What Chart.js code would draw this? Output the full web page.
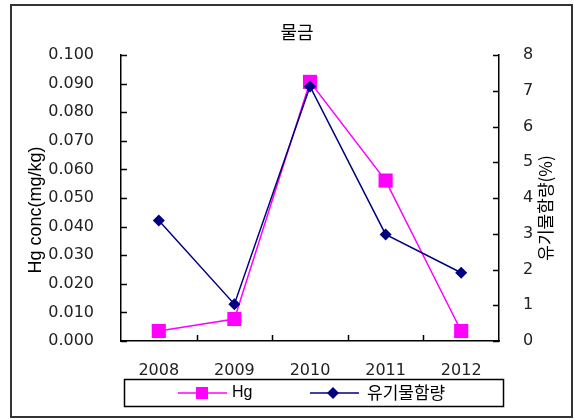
<!DOCTYPE html>
<html>
<head>
<meta charset="utf-8">
<script src="https://cdn.jsdelivr.net/npm/chart.js@4.4.1/dist/chart.umd.min.js"></script>
<style>
  html, body { margin: 0; padding: 0; background: #fff; }
  #wrap { width: 574px; height: 419px; position: relative; }
</style>
</head>
<body>
<div id="wrap"><canvas id="chart" width="574" height="419"></canvas></div>
<script>
// 데이터
const years = ['2008', '2009', '2010', '2011', '2012'];
const hgValues = [0.0035, 0.0077, 0.0906, 0.0561, 0.0035];
const organicValues = [3.37, 1.03, 7.12, 2.98, 1.91];
const chartTitle = '물금';
const hgLabel = 'Hg';
const organicLabel = '유기물함량';
const leftAxisTitle = 'Hg conc(mg/kg)';
const rightAxisTitle = '유기물함량(%)';

const tickFont = { family: 'DejaVu Sans', size: 16 };

// 제목, 안쪽 눈금, 범례 상자 등을 직접 그림
const extrasPlugin = {
  id: 'extras',
  afterDraw(chart) {
    const ctx = chart.ctx;
    const x = chart.scales.x;
    const yL = chart.scales.y;
    const yR = chart.scales.y1;
    const area = chart.chartArea;
    ctx.save();

    // 바깥 테두리
    ctx.strokeStyle = '#333';
    ctx.lineWidth = 2;
    ctx.strokeRect(11, 5, 561, 412);

    // 제목
    ctx.fillStyle = '#000';
    ctx.font = '18px "Noto Sans CJK KR"';
    ctx.textAlign = 'center';
    ctx.textBaseline = 'middle';
    ctx.fillText(chartTitle, 297, 32);

    // 안쪽 눈금
    ctx.strokeStyle = '#000';
    ctx.lineWidth = 1.5;
    ctx.beginPath();
    yL.ticks.forEach(t => {
      const py = Math.round(yL.getPixelForValue(t.value)) + 0.5;
      ctx.moveTo(area.left, py);
      ctx.lineTo(area.left + 6, py);
    });
    yR.ticks.forEach(t => {
      const py = Math.round(yR.getPixelForValue(t.value)) + 0.5;
      ctx.moveTo(area.right, py);
      ctx.lineTo(area.right - 6, py);
    });
    for (let i = 0; i < years.length - 1; i++) {
      const px = Math.round(x.getPixelForValue(i + 0.5)) + 0.5;
      ctx.moveTo(px, area.bottom);
      ctx.lineTo(px, area.bottom - 6);
    }
    ctx.stroke();

    // 축 제목 (둘 다 아래에서 위로)
    ctx.fillStyle = '#000';
    ctx.save();
    ctx.translate(36, 210);
    ctx.rotate(-Math.PI / 2);
    ctx.font = '18px "Liberation Sans"';
    ctx.fillText(leftAxisTitle, 0, 0);
    ctx.restore();
    ctx.save();
    ctx.translate(546, 208);
    ctx.rotate(-Math.PI / 2);
    ctx.font = '17px "Noto Sans CJK KR"';
    ctx.fillText(rightAxisTitle, 0, 0);
    ctx.restore();

    // 범례
    const ly = 393;
    ctx.lineWidth = 1.5;
    ctx.strokeStyle = '#000';
    ctx.strokeRect(124.5, 379.5, 379, 27);

    ctx.strokeStyle = '#FF00FF';
    ctx.beginPath();
    ctx.moveTo(178, ly);
    ctx.lineTo(227, ly);
    ctx.stroke();
    ctx.fillStyle = '#FF00FF';
    ctx.fillRect(202 - 6, ly - 6, 12, 12);

    ctx.strokeStyle = '#000080';
    ctx.beginPath();
    ctx.moveTo(310, ly);
    ctx.lineTo(359, ly);
    ctx.stroke();
    ctx.fillStyle = '#000080';
    ctx.beginPath();
    ctx.moveTo(333 - 6, ly);
    ctx.lineTo(333, ly - 6);
    ctx.lineTo(333 + 6, ly);
    ctx.lineTo(333, ly + 6);
    ctx.closePath();
    ctx.fill();

    ctx.fillStyle = '#000';
    ctx.textAlign = 'left';
    ctx.font = '16px "Liberation Sans"';
    ctx.fillText(hgLabel, 232, ly);
    ctx.font = '17px "Noto Sans CJK KR"';
    ctx.fillText(organicLabel, 367, ly);

    ctx.restore();
  }
};

new Chart(document.getElementById('chart'), {
  type: 'line',
  data: {
    labels: years,
    datasets: [
      {
        label: hgLabel,
        data: hgValues,
        yAxisID: 'y',
        borderColor: '#FF00FF',
        backgroundColor: '#FF00FF',
        borderWidth: 1.5,
        pointStyle: 'rect',
        pointRadius: 10,
        pointHoverRadius: 10,
        pointBorderWidth: 0,
        tension: 0,
        order: 2
      },
      {
        label: organicLabel,
        data: organicValues,
        yAxisID: 'y1',
        borderColor: '#000080',
        backgroundColor: '#000080',
        borderWidth: 1.5,
        pointStyle: 'rectRot',
        pointRadius: 6,
        pointHoverRadius: 6,
        pointBorderWidth: 0,
        tension: 0,
        order: 1
      }
    ]
  },
  options: {
    responsive: false,
    animation: false,
    layout: { padding: { top: 55, left: 0, right: 0, bottom: 0 } },
    plugins: {
      legend: { display: false },
      title: { display: false },
      tooltip: { enabled: false }
    },
    scales: {
      x: {
        offset: true,
        grid: { display: false, drawTicks: false },
        border: { display: true, color: '#000', width: 1.5 },
        ticks: { color: '#222', font: tickFont, padding: 20, maxRotation: 0 },
        afterFit(scale) { scale.height = 78; }
      },
      y: {
        position: 'left',
        min: 0,
        max: 0.1,
        grid: { display: false, drawTicks: false },
        border: { display: true, color: '#000', width: 1.5 },
        ticks: {
          stepSize: 0.01,
          color: '#222',
          font: tickFont,
          padding: 27,
          callback: v => v.toFixed(3)
        },
        afterFit(scale) { scale.width = 121; }
      },
      y1: {
        position: 'right',
        min: 0,
        max: 8,
        grid: { display: false, drawTicks: false },
        border: { display: true, color: '#000', width: 1.5 },
        ticks: { stepSize: 1, color: '#222', font: tickFont, padding: 24 },
        afterFit(scale) { scale.width = 75; }
      }
    }
  },
  plugins: [extrasPlugin]
});
</script>
</body>
</html>
